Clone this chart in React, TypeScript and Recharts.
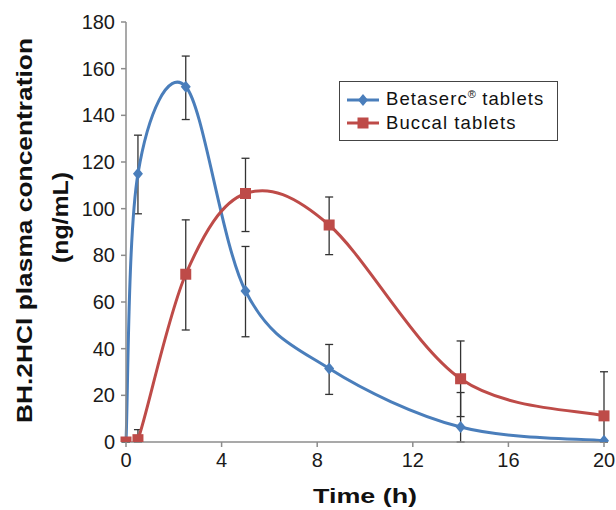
import React from 'react';
import { LineChart, Line, XAxis, YAxis, ErrorBar, Label } from 'recharts';

// sampling times (h)
const times = [0, 0.5, 2.5, 5, 8.5, 14, 20];

// Betaserc tablets, mean and error (minus, plus)
const betaserc = [0, 115, 152.3, 64.7, 31.5, 6.4, 0.5];
const betasercErrMinus = [0, 17.2, 14.1, 19.6, 11.1, 6.4, 0];
const betasercErrPlus = [0, 16.5, 13.1, 19.1, 10.3, 14.8, 0];

// Buccal tablets
const buccal = [0, 1, 71.9, 106.5, 93, 27.1, 11.2];
const buccalErrMinus = [0, 1, 23.9, 16.3, 12.7, 16.2, 11.2];
const buccalErrPlus = [0, 4.3, 23.3, 15.1, 12, 16.2, 18.9];

const xTicks = [0, 4, 8, 12, 16, 20];
const yTicks = [0, 20, 40, 60, 80, 100, 120, 140, 160, 180];

const BLUE = '#4a7ebb';
const RED = '#be4b48';
const FONT = 'Arial, "Liberation Sans", sans-serif';

const data = times.map((t, i) => ({
  t,
  betaserc: betaserc[i],
  betasercErr: [betasercErrMinus[i], betasercErrPlus[i]],
  buccal: buccal[i],
  buccalErr: [buccalErrMinus[i], buccalErrPlus[i]],
}));

// excel-like smoothed line (bezier through the points, catmull-rom style)
const smoothCurve = (context: any) => {
  let px: number[] = [];
  let py: number[] = [];
  return {
    areaStart() {},
    areaEnd() {},
    lineStart() {
      px = [];
      py = [];
    },
    point(x: number, y: number) {
      px.push(+x);
      py.push(+y);
    },
    lineEnd() {
      const n = px.length;
      if (!n) return;
      context.moveTo(px[0], py[0]);
      for (let i = 0; i < n - 1; i++) {
        const a = Math.max(i - 1, 0);
        const d = Math.min(i + 2, n - 1);
        const c1x = px[i] + (px[i + 1] - px[a]) / 6;
        const c1y = py[i] + (py[i + 1] - py[a]) / 6;
        const c2x = px[i + 1] - (px[d] - px[i]) / 6;
        const c2y = py[i + 1] - (py[d] - py[i]) / 6;
        context.bezierCurveTo(c1x, c1y, c2x, c2y, px[i + 1], py[i + 1]);
      }
    },
  };
};

const Diamond = ({ cx, cy, fill }: { cx: number; cy: number; fill: string }) => (
  <path d={`M${cx},${cy - 6}L${cx + 5},${cy}L${cx},${cy + 6}L${cx - 5},${cy}Z`} fill={fill} />
);

const Square = ({ cx, cy, fill }: { cx: number; cy: number; fill: string }) => (
  <rect x={cx - 5.5} y={cy - 5.5} width={11} height={11} fill={fill} />
);

// legend box sits on top of the plot, outside recharts layout
const ChartLegend = () => (
  <div
    style={{
      position: 'absolute',
      left: 339,
      top: 81,
      width: 217,
      height: 58,
      border: '1px solid #444',
      background: '#fff',
      fontFamily: FONT,
      fontSize: 18.5,
      color: '#111',
      letterSpacing: 1.1,
    }}
  >
    <div style={{ display: 'flex', alignItems: 'center', height: 23, marginTop: 6 }}>
      <svg width={46} height={16} style={{ flex: 'none' }}>
        <line x1={7} y1={8} x2={39} y2={8} stroke={BLUE} strokeWidth={3} />
        <Diamond cx={23} cy={8} fill={BLUE} />
      </svg>
      <span>
        Betaserc<sup style={{ fontSize: 11, letterSpacing: 0 }}>®</sup> tablets
      </span>
    </div>
    <div style={{ display: 'flex', alignItems: 'center', height: 23 }}>
      <svg width={46} height={16} style={{ flex: 'none' }}>
        <line x1={7} y1={8} x2={39} y2={8} stroke={RED} strokeWidth={3} />
        <Square cx={23} cy={8} fill={RED} />
      </svg>
      <span>Buccal tablets</span>
    </div>
  </div>
);

const YTitle = () => (
  <g fontFamily={FONT} fontWeight="bold" fill="#111">
    <text
      transform="translate(32,230.5) rotate(-90)"
      textAnchor="middle"
      fontSize={22}
      textLength={385}
      lengthAdjust="spacingAndGlyphs"
    >
      BH.2HCl plasma concentration
    </text>
    <text
      transform="translate(67.5,217.5) rotate(-90)"
      textAnchor="middle"
      fontSize={22}
      textLength={91}
      lengthAdjust="spacingAndGlyphs"
    >
      (ng/mL)
    </text>
  </g>
);

const XTitle = () => (
  <text
    x={365}
    y={502.5}
    textAnchor="middle"
    fontFamily={FONT}
    fontWeight="bold"
    fontSize={21}
    fill="#111"
    textLength={104}
    lengthAdjust="spacingAndGlyphs"
  >
    Time (h)
  </text>
);

const tickStyle = { fontFamily: FONT, fontSize: 20, fill: '#1a1a1a' };

export default function App() {
  return (
    <div style={{ position: 'absolute', left: 0, top: 0, width: 616, height: 510, background: '#fff' }}>
      <LineChart width={616} height={510} data={data} margin={{ top: 22, right: 12, bottom: 28, left: 56 }}>
        <XAxis
          dataKey="t"
          type="number"
          domain={[0, 20]}
          ticks={xTicks}
          height={40}
          stroke="#8c8c8c"
          strokeWidth={1.5}
          tickSize={5}
          tickMargin={6}
          tick={tickStyle}
        >
          <Label content={() => <XTitle />} />
        </XAxis>
        <YAxis
          type="number"
          domain={[0, 180]}
          ticks={yTicks}
          width={70}
          stroke="#8c8c8c"
          strokeWidth={1.5}
          tickSize={5}
          tickMargin={6}
          tick={tickStyle}
          allowDataOverflow
        >
          <Label content={() => <YTitle />} />
        </YAxis>
        <Line
          dataKey="betaserc"
          type={smoothCurve as any}
          stroke={BLUE}
          strokeWidth={3}
          isAnimationActive={false}
          dot={(p: any) => <Diamond key={`b${p.index}`} cx={p.cx} cy={p.cy} fill={BLUE} />}
          activeDot={false}
        >
          <ErrorBar dataKey="betasercErr" direction="y" width={4} stroke="#333" strokeWidth={1.3} />
        </Line>
        <Line
          dataKey="buccal"
          type={smoothCurve as any}
          stroke={RED}
          strokeWidth={3}
          isAnimationActive={false}
          dot={(p: any) => <Square key={`r${p.index}`} cx={p.cx} cy={p.cy} fill={RED} />}
          activeDot={false}
        >
          <ErrorBar dataKey="buccalErr" direction="y" width={4} stroke="#333" strokeWidth={1.3} />
        </Line>
      </LineChart>
      <ChartLegend />
    </div>
  );
}
